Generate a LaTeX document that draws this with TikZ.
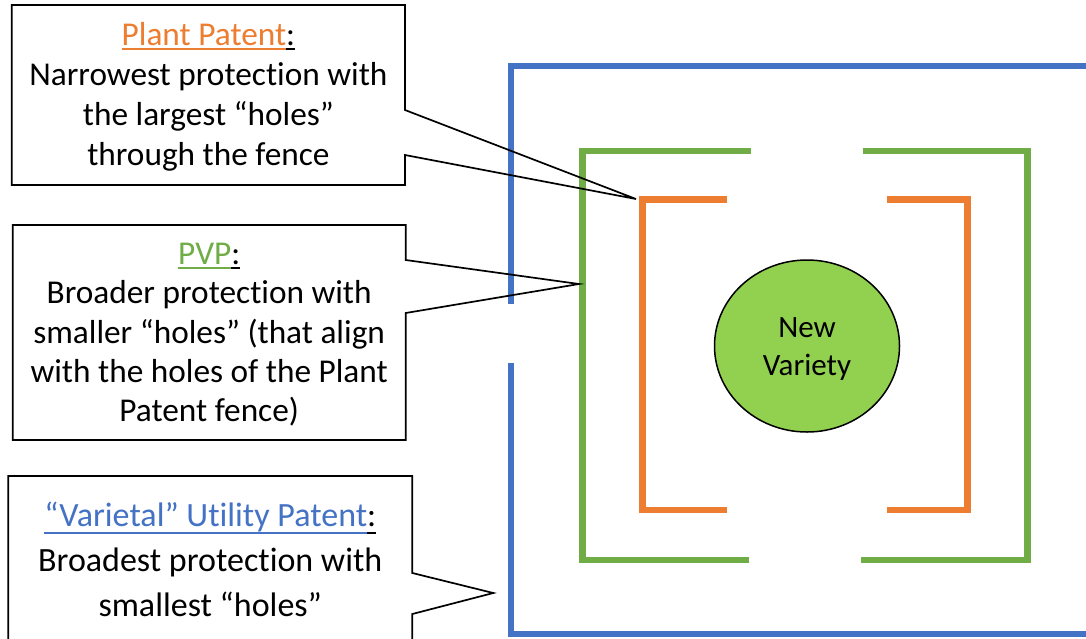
\documentclass[tikz,border=0pt]{standalone}
\usepackage{fontspec}
\setmainfont[Ligatures={NoCommon,TeX}]{Carlito}
\usetikzlibrary{calc,shapes.geometric}

\definecolor{fenceBlue}{HTML}{4472C4}
\definecolor{fenceGreen}{HTML}{70AD47}
\definecolor{fenceOrange}{HTML}{ED7D31}
\definecolor{leafGreen}{HTML}{92D050}

% underline at a fixed depth, drawn in the current colour
\newsavebox\ulinebox
\newcommand\ulbar[2][-5pt]{\sbox\ulinebox{#2}\rlap{\rule[#1]{\wd\ulinebox}{1.9pt}}\usebox\ulinebox}

\begin{document}
\begin{tikzpicture}[x=1pt,y=-1pt,
  fence/.style={line width=6.5pt, line cap=butt, line join=miter},
  calloutline/.style={draw=black, line width=1.7pt, line join=miter},
  boxarea/.style={rectangle, inner sep=0pt, outer sep=0pt, draw=none},
  calloutText/.style={anchor=base, inner sep=0pt, outer sep=0pt},
]
\useasboundingbox (0,0) rectangle (1086,638);
\fill[white] (0,0) rectangle (1086,638);
\clip (0,0) rectangle (1086,638);

% outer fence: varietal utility patent
\draw[fence, fenceBlue] (1100,66) -- (511,66) -- (511,304);
\draw[fence, fenceBlue] (511,363.3) -- (511,634) -- (1100,634);

% middle fence: PVP
\draw[fence, fenceGreen] (750.7,151) -- (582.5,151) -- (582.5,560) -- (749,560);
\draw[fence, fenceGreen] (862.7,151) -- (1027.5,151) -- (1027.5,560) -- (861,560);

% inner fence: plant patent
\draw[fence, fenceOrange] (727,199.5) -- (642.5,199.5) -- (642.5,510) -- (727,510);
\draw[fence, fenceOrange] (887,199.5) -- (967.4,199.5) -- (967.4,510) -- (887,510);

% the protected variety
\node[ellipse, draw=black, line width=1.5pt, fill=leafGreen,
      minimum width=185, minimum height=172, inner sep=0pt] (nv) at (807,346) {};
\node[calloutText] (nvlabel) at (807,337)
  {\fontsize{31pt}{38.7pt}\selectfont\begin{tabular}[t]{@{}c@{}}New\\Variety\end{tabular}};

% callout boxes
\node[boxarea, minimum width=393.3, minimum height=180] (pp) at (208.35,95) {};
\node[boxarea, minimum width=393, minimum height=215] (pvp) at (209.2,332.5) {};
\node[boxarea, minimum width=404, minimum height=184] (up) at (210.3,568) {};

\coordinate (ppTip) at (636,199);
\coordinate (pvpTip) at (579,284);
\coordinate (upTip) at (493.3,593);

\draw[calloutline] (pp.north west) -- (pp.north east) -- ($(pp.north east)+(0,105)$)
  -- (ppTip) -- ($(pp.north east)+(0,150)$) -- (pp.south east) -- (pp.south west) -- cycle;
\draw[calloutline] (pvp.north west) -- (pvp.north east) -- ($(pvp.north east)+(0,35)$)
  -- (pvpTip) -- ($(pvp.north east)+(0,88)$) -- (pvp.south east) -- (pvp.south west) -- cycle;
\draw[calloutline] (up.north west) -- (up.north east) -- ($(up.north east)+(0,97)$)
  -- (upTip) -- ($(up.north east)+(0,138)$) -- (up.south east) -- (up.south west) -- cycle;

% callout texts
\node[calloutText] (pptext) at (208.4,45)
  {\fontsize{33.3pt}{40pt}\selectfont\begin{tabular}[t]{@{}c@{}}
   \textcolor{fenceOrange}{\ulbar{Plant Patent}}\ulbar{:}\\
   Narrowest protection with\\
   the largest “holes”\\
   through the fence\end{tabular}};
\node[calloutText] (pvptext) at (209.2,264.3)
  {\fontsize{33.3pt}{39.4pt}\selectfont\begin{tabular}[t]{@{}c@{}}
   \textcolor{fenceGreen}{\ulbar{PVP}}\ulbar{:}\\
   Broader protection with\\
   smaller “holes” (that align\\
   with the holes of the Plant\\
   Patent fence)\end{tabular}};
\node[calloutText] (uptext) at (210.3,526)
  {\fontsize{34pt}{45.3pt}\selectfont\begin{tabular}[t]{@{}c@{}}
   \textcolor{fenceBlue}{\ulbar[-7.5pt]{“Varietal” Utility Patent}}\ulbar[-7.5pt]{:}\\
   Broadest protection with\\
   smallest “holes”\end{tabular}};
\end{tikzpicture}
\end{document}
